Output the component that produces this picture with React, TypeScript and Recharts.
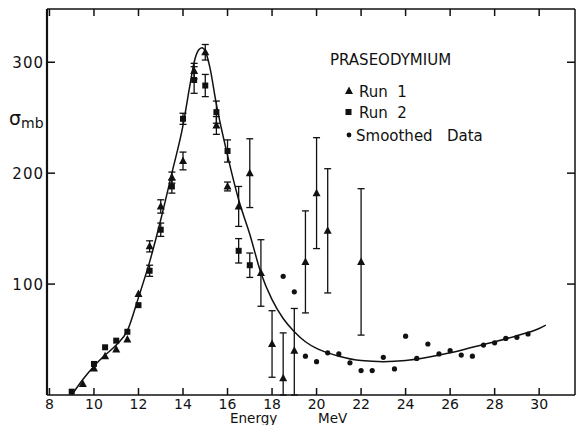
import React from "react";
import {
  ComposedChart,
  Line,
  Scatter,
  ErrorBar,
  XAxis,
  YAxis,
  Legend,
} from "recharts";

// Run 1 (triangles), err = half error bar, or [below, above]
const run1 = [
  { e: 9.5, s: 10 },
  { e: 10, s: 24 },
  { e: 10.5, s: 35 },
  { e: 11, s: 41 },
  { e: 11.5, s: 50 },
  { e: 12, s: 91 },
  { e: 12.5, s: 134, err: 5 },
  { e: 13, s: 170, err: 6 },
  { e: 13.5, s: 196, err: 5 },
  { e: 14, s: 211, err: 8 },
  { e: 14.5, s: 292, err: 7 },
  { e: 15, s: 309, err: 7 },
  { e: 15.5, s: 243, err: 8 },
  { e: 16, s: 188, err: 4 },
  { e: 16.5, s: 170, err: 18 },
  { e: 17, s: 200, err: 31 },
  { e: 17.5, s: 110, err: 30 },
  { e: 18, s: 46, err: 30 },
  { e: 18.5, s: 15, err: [15, 41] },
  { e: 19, s: 40, err: [40, 38] },
  { e: 19.5, s: 120, err: 46 },
  { e: 20, s: 182, err: 50 },
  { e: 20.5, s: 148, err: 56 },
  { e: 22, s: 120, err: 66 },
];

// Run 2 (squares)
const run2 = [
  { e: 9, s: 3 },
  { e: 10, s: 28 },
  { e: 10.5, s: 43 },
  { e: 11, s: 49 },
  { e: 11.5, s: 57 },
  { e: 12, s: 81 },
  { e: 12.5, s: 112, err: 5 },
  { e: 13, s: 149, err: 6 },
  { e: 13.5, s: 188, err: 6 },
  { e: 14, s: 249, err: 5 },
  { e: 14.5, s: 284, err: 12 },
  { e: 15, s: 279, err: 10 },
  { e: 15.5, s: 255, err: 10 },
  { e: 16, s: 220, err: 10 },
  { e: 16.5, s: 130, err: 11 },
  { e: 17, s: 117, err: 11 },
];

// smoothed data (dots)
const smoothed = [
  { e: 18.5, s: 107 },
  { e: 19, s: 93 },
  { e: 19.5, s: 35 },
  { e: 20, s: 30 },
  { e: 20.5, s: 38 },
  { e: 21, s: 37 },
  { e: 21.5, s: 29 },
  { e: 22, s: 22 },
  { e: 22.5, s: 22 },
  { e: 23, s: 34 },
  { e: 23.5, s: 23.5 },
  { e: 24, s: 53 },
  { e: 24.5, s: 33 },
  { e: 25, s: 46 },
  { e: 25.5, s: 37 },
  { e: 26, s: 40 },
  { e: 26.5, s: 36 },
  { e: 27, s: 35 },
  { e: 27.5, s: 45 },
  { e: 28, s: 47 },
  { e: 28.5, s: 51 },
  { e: 29, s: 52 },
  { e: 29.5, s: 55 },
];

// hand drawn curve through the data
const curve = [
  { e: 9, s: 0 },
  { e: 9.5, s: 14 },
  { e: 10, s: 26 },
  { e: 10.5, s: 36 },
  { e: 11, s: 45 },
  { e: 11.5, s: 58 },
  { e: 12, s: 88 },
  { e: 12.5, s: 120 },
  { e: 13, s: 158 },
  { e: 13.5, s: 200 },
  { e: 14, s: 243 },
  { e: 14.3, s: 278 },
  { e: 14.5, s: 300 },
  { e: 14.7, s: 311 },
  { e: 14.85, s: 313 },
  { e: 15, s: 310 },
  { e: 15.2, s: 296 },
  { e: 15.5, s: 262 },
  { e: 16, s: 216 },
  { e: 16.5, s: 176 },
  { e: 17, s: 145 },
  { e: 17.5, s: 110 },
  { e: 18, s: 86 },
  { e: 18.5, s: 69 },
  { e: 19, s: 57 },
  { e: 19.5, s: 48 },
  { e: 20, s: 42 },
  { e: 20.5, s: 38 },
  { e: 21, s: 35 },
  { e: 22, s: 31 },
  { e: 23, s: 30 },
  { e: 24, s: 31 },
  { e: 25, s: 34 },
  { e: 26, s: 38 },
  { e: 27, s: 43 },
  { e: 28, s: 48 },
  { e: 29, s: 53.5 },
  { e: 30, s: 60 },
  { e: 30.3, s: 63 },
];

const xTicks = [8, 10, 12, 14, 16, 18, 20, 22, 24, 26, 28, 30];
const yTicks = [100, 200, 300];

const ink = "#111";
const font = "'DejaVu Sans', sans-serif";

const BottomTick = (props: any) => {
  const { x, y, payload } = props;
  return (
    <g>
      <line x1={x} y1={y} x2={x} y2={y - 7} stroke={ink} strokeWidth={1.5} />
      <text x={x} y={y + 14} textAnchor="middle" fontSize={14} fill={ink} fontFamily={font}>
        {payload.value}
      </text>
    </g>
  );
};

const TopTick = (props: any) => {
  const { x, y } = props;
  return <line x1={x} y1={y} x2={x} y2={y + 7} stroke={ink} strokeWidth={1.5} />;
};

const LeftTick = (props: any) => {
  const { x, y, payload } = props;
  return (
    <g>
      <line x1={x} y1={y} x2={x + 8} y2={y} stroke={ink} strokeWidth={1.5} />
      <text x={x - 3} y={y + 5.5} textAnchor="end" fontSize={15} fill={ink} fontFamily={font} letterSpacing={1}>
        {payload.value}
      </text>
    </g>
  );
};

const RightTick = (props: any) => {
  const { x, y } = props;
  return <line x1={x} y1={y} x2={x - 8} y2={y} stroke={ink} strokeWidth={1.5} />;
};

const Tri = (p: any) => (
  <polygon
    points={`${p.cx},${p.cy - 4.5} ${p.cx + 4},${p.cy + 3} ${p.cx - 4},${p.cy + 3}`}
    fill={ink}
  />
);
const Sq = (p: any) => <rect x={p.cx - 3} y={p.cy - 3} width={6} height={6} fill={ink} />;
const Dot = (p: any) => <circle cx={p.cx} cy={p.cy} r={2.6} fill={ink} />;

const EnergyLabel = (props: any) => {
  const vb = props.viewBox;
  return (
    <g fontFamily={font} fontSize={13.5} fill={ink}>
      <text x={vb.x + 183} y={vb.y + 28}>Energy</text>
      <text x={vb.x + 271} y={vb.y + 28}>MeV</text>
    </g>
  );
};

const SigmaLabel = (props: any) => {
  const vb = props.viewBox;
  return (
    <text x={vb.x + 9} y={vb.y + 116} fontFamily={font} fill={ink}>
      <tspan fontSize={19}>σ</tspan>
      <tspan fontSize={14} dy={3}>mb</tspan>
    </text>
  );
};

const renderLegend = () => (
  <svg width={200} height={110} style={{ display: "block" }}>
    <g fontFamily={font} fontSize={15} fill={ink}>
      <text x={10} y={25}>PRASEODYMIUM</text>
      <polygon points="29,46.5 33,54 25,54" fill={ink} />
      <text x={39} y={56.5} xmlSpace="preserve">Run  1</text>
      <rect x={25.5} y={69} width={6} height={6} fill={ink} />
      <text x={39} y={77.5} xmlSpace="preserve">Run  2</text>
      <circle cx={29} cy={95} r={2.4} fill={ink} />
      <text x={36} y={100.5} xmlSpace="preserve">Smoothed   Data</text>
    </g>
  </svg>
);

export default function App() {
  return (
    <div style={{ position: "absolute", left: 0, top: 0, background: "#fff" }}>
      <ComposedChart width={576} height={425} margin={{ top: 8, right: 0, bottom: 0, left: 0 }}>
        <XAxis
          dataKey="e"
          type="number"
          domain={[7.89, 31.61]}
          allowDataOverflow
          ticks={xTicks}
          interval={0}
          tickSize={0}
          tickMargin={0}
          tickLine={false}
          tick={<BottomTick />}
          height={30}
          axisLine={{ stroke: ink, strokeWidth: 1.5 }}
          label={{ content: EnergyLabel }}
        />
        <XAxis
          xAxisId="top"
          orientation="top"
          dataKey="e"
          type="number"
          domain={[7.89, 31.61]}
          allowDataOverflow
          ticks={xTicks}
          interval={0}
          tickSize={0}
          tickMargin={0}
          tickLine={false}
          tick={<TopTick />}
          height={1}
          axisLine={{ stroke: ink, strokeWidth: 1.5 }}
        />
        <YAxis
          dataKey="s"
          type="number"
          domain={[0, 348]}
          allowDataOverflow
          ticks={yTicks}
          interval={0}
          tickSize={0}
          tickMargin={0}
          tickLine={false}
          tick={<LeftTick />}
          width={47}
          axisLine={{ stroke: ink, strokeWidth: 2.2 }}
          label={{ content: SigmaLabel }}
        />
        <YAxis
          yAxisId="right"
          orientation="right"
          dataKey="s"
          type="number"
          domain={[0, 348]}
          allowDataOverflow
          ticks={yTicks}
          interval={0}
          tickSize={0}
          tickMargin={0}
          tickLine={false}
          tick={<RightTick />}
          width={1}
          axisLine={{ stroke: ink, strokeWidth: 1.5 }}
        />
        <Legend
          content={renderLegend}
          layout="vertical"
          align="center"
          verticalAlign="middle"
          wrapperStyle={{ left: 320, top: 40, width: 200, height: 110 }}
        />
        <Line
          data={curve}
          dataKey="s"
          type="monotone"
          stroke={ink}
          strokeWidth={1.5}
          dot={false}
          activeDot={false}
          isAnimationActive={false}
          name="Curve"
          legendType="none"
        />
        <Scatter data={run1} dataKey="s" name="Run 1" shape={Tri} isAnimationActive={false}>
          <ErrorBar dataKey="err" direction="y" width={3.5} stroke={ink} strokeWidth={1.3} />
        </Scatter>
        <Scatter data={run2} dataKey="s" name="Run 2" shape={Sq} isAnimationActive={false}>
          <ErrorBar dataKey="err" direction="y" width={3.5} stroke={ink} strokeWidth={1.3} />
        </Scatter>
        <Scatter data={smoothed} dataKey="s" name="Smoothed Data" shape={Dot} isAnimationActive={false} />
        <Scatter
          data={[]}
          dataKey="s"
          xAxisId="top"
          yAxisId="right"
          legendType="none"
          isAnimationActive={false}
        />
      </ComposedChart>
    </div>
  );
}
